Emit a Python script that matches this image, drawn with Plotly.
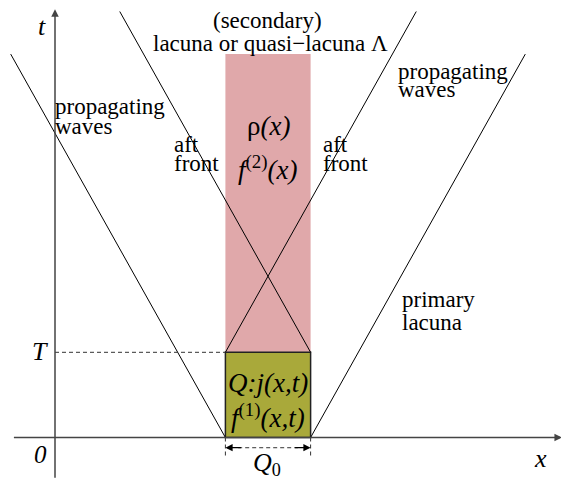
import plotly.graph_objects as go

# ---- data (diagram parameters) ----
Q0 = [4.0, 6.0]          # source interval on x
T = 2.0                  # source duration
lacuna_top = 9.0         # top of the secondary lacuna band
front_tops = [9.0, 10.0] # t reached by outer / inner fronts
speed = 0.56             # dx/dt of the fronts
x_axis = [-1.0, 11.9]
t_axis = [-0.98, 10.05]

SX = 42.6  # px per unit (for range computation)
xr = [-55 / SX, (561 - 55) / SX]
yr = [(437.5 - 479) / SX, 437.5 / SX]

FONT = "Liberation Serif"
fig = go.Figure()

# rectangles
fig.add_shape(type="rect", x0=Q0[0], x1=Q0[1], y0=T, y1=lacuna_top,
              fillcolor="#E0A8AA", line=dict(width=0), layer="below")
fig.add_shape(type="rect", x0=Q0[0], x1=Q0[1], y0=0, y1=T,
              fillcolor="#A9A93A", line=dict(color="#222222", width=1.5), layer="below")

# fronts
a, b = Q0
fronts = [
    ([a, a - speed * front_tops[0]], [0, front_tops[0]]),
    ([b, b - speed * (front_tops[1] - T)], [T, front_tops[1]]),
    ([a, a + speed * (front_tops[1] - T)], [T, front_tops[1]]),
    ([b, b + speed * front_tops[0]], [0, front_tops[0]]),
]
for xs, ys in fronts:
    fig.add_trace(go.Scatter(x=xs, y=ys, mode="lines",
                             line=dict(color="black", width=1), hoverinfo="skip"))

# T dashed line
fig.add_trace(go.Scatter(x=[0, a], y=[T, T], mode="lines",
                         line=dict(color="#333333", width=1, dash="4px,3px"), hoverinfo="skip"))
# Q0 dimension lines
qy = -0.24
for xv in Q0:
    fig.add_trace(go.Scatter(x=[xv, xv], y=[0, -0.48], mode="lines",
                             line=dict(color="#333333", width=1, dash="4px,3px"), hoverinfo="skip"))
fig.add_trace(go.Scatter(x=[a + 0.3, b - 0.3], y=[qy, qy], mode="lines",
                         line=dict(color="#333333", width=1, dash="4px,3px"), hoverinfo="skip"))
for tip, tail in [(a, a + 0.4), (b, b - 0.4)]:
    fig.add_annotation(x=tip, y=qy, ax=tail, ay=qy, xref="x", yref="y", axref="x", ayref="y",
                       showarrow=True, arrowhead=2, arrowsize=1.2, arrowwidth=1.2,
                       arrowcolor="black", text="")

# axes
fig.add_annotation(x=x_axis[1], y=0, ax=x_axis[0], ay=0, xref="x", yref="y", axref="x", ayref="y",
                   showarrow=True, arrowhead=2, arrowsize=1, arrowwidth=1.5,
                   arrowcolor="#444444", text="")
fig.add_annotation(x=0, y=t_axis[1], ax=0, ay=t_axis[0], xref="x", yref="y", axref="x", ayref="y",
                   showarrow=True, arrowhead=2, arrowsize=1, arrowwidth=1.5,
                   arrowcolor="#444444", text="")

def txt(x, y, s, size=23, xanchor="center"):
    fig.add_annotation(x=x, y=y, text=s, showarrow=False, xanchor=xanchor, yanchor="middle",
                       font=dict(family=FONT, size=size, color="black"))

# axis labels
txt(-0.30, 9.64, "<i>t</i>", 26)
txt(11.40, -0.50, "<i>x</i>", 26)
txt(-0.35, -0.41, "<i>0</i>", 25)
txt(-0.35, 2.01, "<i>T</i>", 26)
txt(4.98, -0.62, "<i>Q</i><sub>0</sub>", 26)

# box texts
txt(5.0, 1.28, "<i>Q:j(x,t)</i>", 27)
txt(5.0, 0.50, "<i>f</i><sup>(1)</sup><i>(x,t)</i>", 27)
txt(5.0, 7.32, "ρ<i>(x)</i>", 27)
txt(5.0, 6.33, "<i>f</i><sup>(2)</sup><i>(x)</i>", 27)

# captions
txt(4.98, 9.80, "(secondary)")
txt(5.07, 9.26, "lacuna or quasi\u2212lacuna Λ")
txt(-0.05, 7.78, "propagating", xanchor="left")
txt(-0.05, 7.31, "waves", xanchor="left")
txt(2.74, 6.87, "aft", xanchor="left")
txt(2.74, 6.44, "front", xanchor="left")
txt(6.25, 6.87, "aft", xanchor="left")
txt(6.25, 6.44, "front", xanchor="left")
txt(8.0, 8.60, "propagating", xanchor="left")
txt(8.0, 8.16, "waves", xanchor="left")
txt(8.1, 3.25, "primary", xanchor="left")
txt(8.1, 2.69, "lacuna", xanchor="left")

fig.update_layout(width=561, height=479, margin=dict(l=0, r=0, t=0, b=0),
                  paper_bgcolor="white", plot_bgcolor="white", showlegend=False)
fig.update_xaxes(range=xr, visible=False, fixedrange=True)
fig.update_yaxes(range=yr, visible=False, fixedrange=True)
fig.write_html("out.html", config={"displayModeBar": False},
               post_script="document.body.style.margin='0';document.body.style.overflow='hidden';")
